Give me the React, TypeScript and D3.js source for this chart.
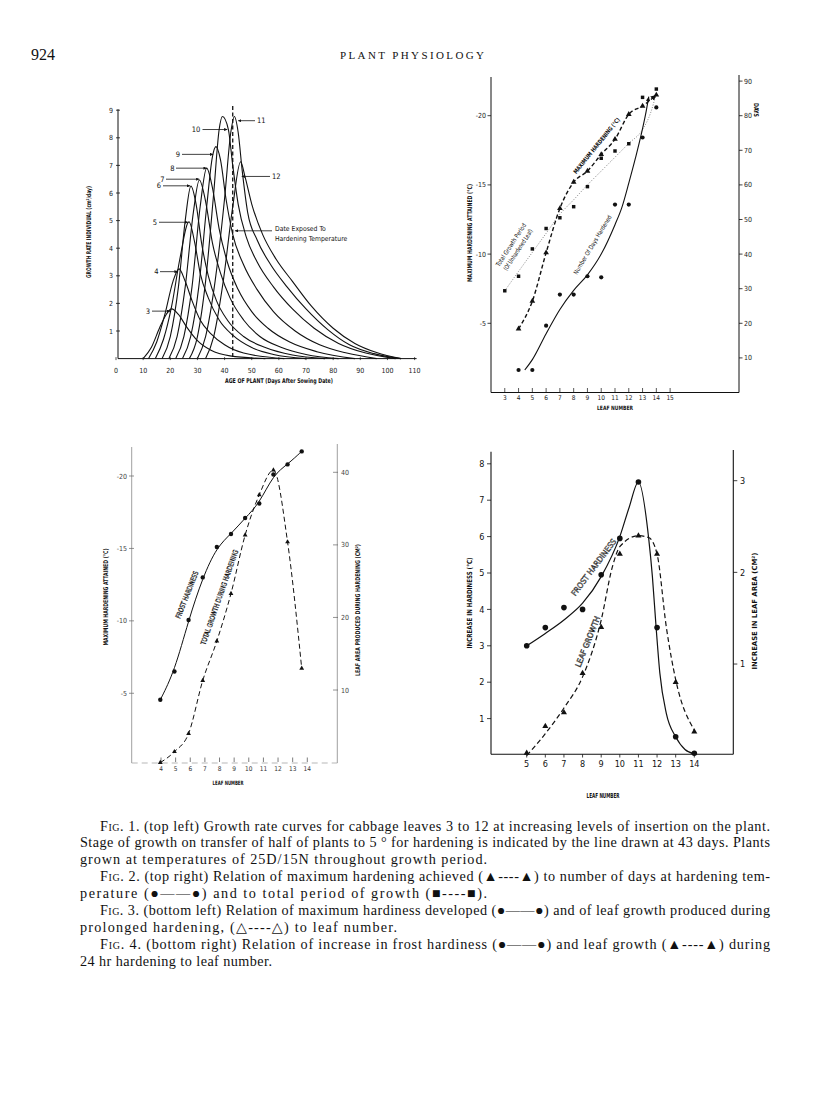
import * as d3 from "d3";

type Pt = [number, number];

// ── Fig. 1: growth rate of individual leaves (day, cm²/day) ──────────
const ageTicks = [0, 10, 20, 30, 40, 50, 60, 70, 80, 90, 100, 110];
const rateTicks = [1, 2, 3, 4, 5, 6, 7, 8, 9];
const exposureDay = 43;

const leaf3: Pt[] = [[10, 0], [13, 0.4], [16, 1.1], [18.5, 1.6], [20.5, 1.8], [23, 1.6], [26, 1.15], [30, 0.65], [35, 0.3], [42, 0.1], [55, 0]];
const leaf4: Pt[] = [[12, 0], [15, 0.6], [18, 1.6], [21, 2.8], [23.2, 3.25], [25.5, 2.8], [28, 2.1], [31, 1.4], [35, 0.9], [40, 0.5], [47, 0.2], [62, 0]];
const leaf5: Pt[] = [[14.5, 0], [17.5, 0.7], [20.5, 1.9], [23.5, 3.6], [26.9, 4.96], [29, 4.2], [31, 3.1], [34, 2.2], [38, 1.4], [43, 0.85], [50, 0.4], [58, 0.15], [70, 0]];
const leaf6: Pt[] = [[17, 0], [20, 0.8], [23, 2.6], [25.5, 5.0], [27.6, 6.25], [29.5, 5.6], [31.5, 4.2], [34, 3.0], [37, 2.1], [41, 1.4], [47, 0.8], [55, 0.4], [65, 0.13], [77, 0]];
const leaf7: Pt[] = [[19.5, 0], [22.5, 0.8], [25.5, 2.6], [28.5, 5.3], [30.7, 6.47], [33, 5.7], [35.5, 4.2], [38.5, 3.1], [42, 2.2], [47, 1.4], [53, 0.8], [61, 0.4], [70, 0.15], [82, 0]];
const leaf8: Pt[] = [[22, 0], [25, 0.8], [28, 2.6], [31, 5.5], [33.4, 6.9], [35.5, 6.2], [38, 4.7], [41, 3.5], [45, 2.5], [50, 1.7], [56, 1.1], [64, 0.6], [74, 0.25], [88, 0]];
const leaf9: Pt[] = [[24.5, 0], [27.5, 0.8], [30.5, 2.6], [33.5, 5.6], [35.5, 7.3], [36.8, 7.68], [38.5, 7.2], [40.5, 5.8], [43, 4.5], [47, 3.4], [52, 2.5], [58, 1.7], [66, 1.0], [75, 0.5], [85, 0.2], [96, 0]];
const leaf10: Pt[] = [[27, 0], [30, 0.8], [33, 2.8], [36, 6.0], [38, 8.3], [39.2, 8.77], [41.4, 8.3], [43, 7.0], [45, 5.6], [48, 4.4], [52, 3.5], [58, 2.6], [65, 1.8], [73, 1.1], [82, 0.55], [92, 0.2], [103, 0]];
const leaf11: Pt[] = [[30, 0], [33, 0.8], [36.5, 2.8], [40, 5.8], [42.3, 8.2], [43.6, 8.77], [45, 8.2], [46.5, 6.8], [48.5, 5.3], [52, 4.3], [57, 3.4], [63, 2.6], [70, 1.8], [78, 1.05], [86, 0.5], [95, 0.18], [105, 0]];
const leaf12: Pt[] = [[33, 0], [36, 0.8], [39.5, 2.8], [43, 5.5], [45.9, 7.13], [47.5, 6.6], [50, 5.6], [54, 4.5], [59, 3.6], [65, 2.8], [72, 1.9], [80, 1.1], [88, 0.55], [96, 0.22], [105, 0]];
const fig1Curves = [leaf3, leaf4, leaf5, leaf6, leaf7, leaf8, leaf9, leaf10, leaf11, leaf12];

// ── Fig. 2: max hardening, days hardened, total growth period ─────────
const leafTicks2 = [3, 4, 5, 6, 7, 8, 9, 10, 11, 12, 13, 14, 15];
const hardLeaves2 = [4, 5, 6, 7, 8, 9, 10, 11, 12, 13, 14];
const maxHardening2 = [4.6, 6.6, 10.1, 13.3, 15.2, 16.0, 17.2, 18.3, 20.1, 20.7, 21.5];
const daysHardened2 = [6.5, 6.5, 19.3, 28.3, 28.3, 33.6, 33.3, 54.3, 54.3, 73.7, 82.4];
const growthLeaves2 = [3, 4, 5, 6, 7, 8, 9, 10, 11, 12, 13, 14];
const totalGrowth2 = [29.4, 33.6, 41.5, 47.4, 50.5, 53.7, 59.5, 67.7, 69.8, 71.9, 85.3, 87.7];
const daysHardenedFit: Pt[] = [[4.45, 6.5], [5, 9.5], [6, 17], [7, 24], [8, 29.5], [9, 34], [10, 40], [11, 48.5], [11.5, 53.5], [12, 60.5], [12.5, 68], [12.9, 74.5], [13.2, 80], [13.45, 85.5]];
const totalGrowthFit: Pt[] = [[3, 29.4], [4, 35], [5, 40.5], [6, 46], [7, 51.5], [8, 55.7], [9, 60], [10, 64], [11, 68], [12, 72], [13, 76], [13.6, 81], [14, 86.5]];
const hardTicks2 = [5, 10, 15, 20];
const dayTicks2 = [10, 20, 30, 40, 50, 60, 70, 80, 90];

// ── Fig. 3: prolonged hardening ──────────────────────────────────────
const leaves3 = [4, 5, 6, 7, 8, 9, 10, 11, 12, 13, 14];
const frostHardiness3 = [4.55, 6.5, 10.06, 13.0, 15.1, 16.0, 17.1, 18.1, 20.1, 20.8, 21.7];
const leafGrowth3 = [0, 1.5, 4.0, 11.3, 16.75, 23.3, 31.35, 36.9, 40.3, 30.4, 13.0];
const hardTicks3 = [5, 10, 15, 20];
const areaTicks3 = [10, 20, 30, 40];

// ── Fig. 4: 24 hr hardening ──────────────────────────────────────────
const leaves4 = [5, 6, 7, 8, 9, 10, 11, 12, 13, 14];
const frostIncrease4 = [3.0, 3.5, 4.05, 4.0, 4.95, 5.95, 7.5, 3.5, 0.5, 0.05];
const leafGrowth4 = [0.03, 0.32, 0.47, 0.9, 1.4, 2.2, 2.4, 2.2, 0.8, 0.26];
const frostFit4: Pt[] = [[5, 3.0], [6, 3.34], [7, 3.71], [8, 4.17], [9, 4.9], [10, 6.0], [10.5, 6.8], [11, 7.5], [11.55, 5.95], [11.75, 4.9], [11.95, 3.5], [12.15, 2.25], [12.5, 1.14], [13, 0.5], [13.5, 0.15], [14, 0.03]];
const leafGrowthFit4: Pt[] = [[5, 0], [6, 0.24], [7, 0.52], [8, 0.86], [9, 1.48], [9.6, 2.06], [10, 2.28], [11, 2.4], [11.55, 2.38], [12, 2.2], [12.5, 1.4], [13, 0.83], [14, 0.28]];
const hardTicks4 = [1, 2, 3, 4, 5, 6, 7, 8];
const areaTicks4 = [1, 2, 3];

const captionLines = [
  { fig: "Fig. 1.", text: " (top left) Growth rate curves for cabbage leaves 3 to 12 at increasing levels of insertion on the plant.", indent: true, end: 770 },
  { fig: "", text: "Stage of growth on transfer of half of plants to 5 ° for hardening is indicated by the line drawn at 43 days. Plants", indent: false, end: 770 },
  { fig: "", text: "grown at temperatures of 25D/15N throughout growth period.", indent: false, end: 487 },
  { fig: "Fig. 2.", text: " (top right) Relation of maximum hardening achieved (▲----▲) to number of days at hardening tem-", indent: true, end: 770 },
  { fig: "", text: "perature (●——●) and to total period of growth (■----■).", indent: false, end: 487 },
  { fig: "Fig. 3.", text: " (bottom left) Relation of maximum hardiness developed (●——●) and of leaf growth produced during", indent: true, end: 770 },
  { fig: "", text: "prolonged hardening, (△----△) to leaf number.", indent: false, end: 397 },
  { fig: "Fig. 4.", text: " (bottom right) Relation of increase in frost hardiness (●——●) and leaf growth (▲----▲) during", indent: true, end: 770 },
  { fig: "", text: "24 hr hardening to leaf number.", indent: false, end: 272 },
];

const SANS = "'Liberation Sans Narrow','DejaVu Sans Condensed','Liberation Sans',sans-serif";
const SERIF = "'Liberation Serif','DejaVu Serif',serif";

const tri = d3.symbol().type(d3.symbolTriangle);
const sq = d3.symbol().type(d3.symbolSquare);

function RotText(p: { x: number; y: number; angle: number; len?: number; size: number; bold?: boolean; hollow?: boolean; children: any }) {
  return (
    <text
      transform={`translate(${p.x},${p.y}) rotate(${p.angle})`}
      textAnchor="middle"
      fontFamily={SANS}
      fontSize={p.size}
      fontWeight={p.bold ? "bold" : "normal"}
      textLength={p.len}
      lengthAdjust="spacingAndGlyphs"
      fill={p.hollow ? "#fff" : "#111"}
      stroke={p.hollow ? "#111" : "none"}
      strokeWidth={p.hollow ? 0.45 : 0}
      dominantBaseline="middle"
    >
      {p.children}
    </text>
  );
}

function Fig1() {
  const x = d3.scaleLinear().domain([0, 110]).range([116, 414.6]);
  const y = d3.scaleLinear().domain([0, 9]).range([358.6, 110.2]);
  const line = d3.line<Pt>().x((d) => x(d[0])).y((d) => y(d[1])).curve(d3.curveMonotoneX);
  const ax = x(0) + 2;
  const leaders = [
    { t: "3", lx: 148, from: 152, day: 19.9, rate: 1.72 },
    { t: "4", lx: 156.5, from: 160, day: 22.7, rate: 3.15 },
    { t: "5", lx: 155, from: 159, day: 26.6, rate: 4.94 },
    { t: "6", lx: 159, from: 163, day: 27.3, rate: 6.26 },
    { t: "7", lx: 162.5, from: 166, day: 30.7, rate: 6.5 },
    { t: "8", lx: 172.5, from: 176, day: 33.4, rate: 6.9 },
    { t: "9", lx: 178, from: 182, day: 35.8, rate: 7.4 },
    { t: "10", lx: 196, from: 202.5, day: 41.0, rate: 8.3 },
  ];
  const rightLeaders = [
    { t: "11", lx: 257, from: 255, day: 45.0, rate: 8.62 },
    { t: "12", lx: 272, from: 270, day: 46.3, rate: 6.6 },
  ];
  return (
    <g>
      <line x1={ax} x2={ax} y1={y(9) - 1} y2={y(0)} stroke="#111" strokeWidth={1} />
      <line x1={ax} x2={x(110) + 2} y1={y(0)} y2={y(0)} stroke="#111" strokeWidth={1} />
      {rateTicks.map((t) => (
        <g key={t}>
          <line x1={ax - 2} x2={ax + 2} y1={y(t)} y2={y(t)} stroke="#111" strokeWidth={0.8} />
          <text x={ax - 5} y={y(t) + 2.5} textAnchor="end" fontSize={7} fontFamily={SANS} fill="#222">{t}</text>
        </g>
      ))}
      {ageTicks.map((t) => (
        <g key={t}>
          <line x1={x(t)} x2={x(t)} y1={y(0) - 1.5} y2={y(0) + 1.5} stroke="#111" strokeWidth={0.7} />
          <text x={x(t)} y={373} textAnchor="middle" fontSize={7} fontFamily={SANS} fill="#222">{t}</text>
        </g>
      ))}
      <text x={279} y={383} textAnchor="middle" fontSize={6.5} fontWeight="bold" fontFamily={SANS} textLength={108} lengthAdjust="spacingAndGlyphs" fill="#111">
        AGE OF PLANT (Days After Sowing Date)
      </text>
      <RotText x={89} y={232} angle={-90} len={92} size={6.5} bold>
        GROWTH RATE INDIVIDUAL (cm²/day)
      </RotText>
      {fig1Curves.map((c, i) => (
        <path key={i} d={line(c) ?? ""} fill="none" stroke="#111" strokeWidth={1.1} />
      ))}
      <line x1={x(exposureDay)} x2={x(exposureDay)} y1={106} y2={y(0)} stroke="#111" strokeWidth={1.3} strokeDasharray="4 2.5" />
      {leaders.map((l) => (
        <g key={l.t}>
          <text x={l.lx} y={y(l.rate) + 2.5} textAnchor="middle" fontSize={7.5} fontFamily={SANS} fill="#111">{l.t}</text>
          <line x1={l.from} x2={x(l.day)} y1={y(l.rate)} y2={y(l.rate)} stroke="#111" strokeWidth={0.8} markerEnd="url(#arr)" />
        </g>
      ))}
      {rightLeaders.map((l) => (
        <g key={l.t}>
          <text x={l.lx} y={y(l.rate) + 2.5} fontSize={7.5} fontFamily={SANS} fill="#111">{l.t}</text>
          <line x1={l.from} x2={x(l.day)} y1={y(l.rate)} y2={y(l.rate)} stroke="#111" strokeWidth={0.8} markerEnd="url(#arr)" />
        </g>
      ))}
      <line x1={272} x2={x(43.8)} y1={y(4.63)} y2={y(4.63)} stroke="#111" strokeWidth={0.8} markerEnd="url(#arr)" />
      <text x={275} y={230.8} fontSize={6.8} fontFamily={SANS} fill="#111">Date Exposed To</text>
      <text x={275} y={240.8} fontSize={6.8} fontFamily={SANS} fill="#111">Hardening Temperature</text>
    </g>
  );
}

function Fig2() {
  const x = d3.scaleLinear().domain([2, 20]).range([491, 739]);
  const yL = d3.scaleLinear().domain([0, 20]).range([392.5, 115.7]);
  const yR = d3.scaleLinear().domain([0, 80]).range([392.5, 115.7]);
  const lineL = d3.line<Pt>().x((d) => x(d[0])).y((d) => yL(d[1])).curve(d3.curveMonotoneX);
  const lineR = d3.line<Pt>().x((d) => x(d[0])).y((d) => yR(d[1])).curve(d3.curveMonotoneX);
  const hardPts: Pt[] = hardLeaves2.map((l, i) => [l, maxHardening2[i]]);
  return (
    <g>
      <line x1={491} x2={491} y1={77} y2={392.5} stroke="#111" strokeWidth={1} />
      <line x1={739} x2={739} y1={75} y2={392.5} stroke="#111" strokeWidth={1} />
      <line x1={491} x2={739} y1={392.5} y2={392.5} stroke="#111" strokeWidth={1} />
      {hardTicks2.map((t) => (
        <g key={t}>
          <line x1={487.5} x2={491} y1={yL(t)} y2={yL(t)} stroke="#111" strokeWidth={0.8} />
          <text x={486} y={yL(t) + 2.5} textAnchor="end" fontSize={7} fontFamily={SANS} fill="#222">-{t}</text>
        </g>
      ))}
      {dayTicks2.map((t) => (
        <g key={t}>
          <line x1={739} x2={742.5} y1={yR(t)} y2={yR(t)} stroke="#111" strokeWidth={0.8} />
          <text x={744} y={yR(t) + 2.5} fontSize={7} fontFamily={SANS} fill="#222">{t}</text>
        </g>
      ))}
      {leafTicks2.map((t) => (
        <g key={t}>
          <line x1={x(t)} x2={x(t)} y1={388} y2={392.5} stroke="#111" strokeWidth={0.7} />
          <text x={x(t)} y={400} textAnchor="middle" fontSize={6.5} fontFamily={SANS} fill="#222">{t}</text>
        </g>
      ))}
      <text x={615} y={410} textAnchor="middle" fontSize={6} fontWeight="bold" fontFamily={SANS} textLength={36} lengthAdjust="spacingAndGlyphs" fill="#111">LEAF NUMBER</text>
      <RotText x={470} y={233} angle={-90} len={98} size={6.5} bold>MAXIMUM HARDENING ATTAINED (°C)</RotText>
      <RotText x={756} y={110} angle={90} len={14} size={6.5} bold>DAYS</RotText>

      <path d={lineR(totalGrowthFit) ?? ""} fill="none" stroke="#666" strokeWidth={0.8} strokeDasharray="1 1.6" />
      <path d={lineL(hardPts) ?? ""} fill="none" stroke="#111" strokeWidth={1.4} strokeDasharray="4 2.5" markerEnd="url(#arr)" />
      <path d={lineR(daysHardenedFit) ?? ""} fill="none" stroke="#111" strokeWidth={1.1} markerEnd="url(#arr)" />

      {growthLeaves2.map((l, i) => (
        <path key={"s" + l} transform={`translate(${x(l)},${yR(totalGrowth2[i])})`} d={sq.size(12)() ?? ""} fill="#111" />
      ))}
      {hardLeaves2.map((l, i) => (
        <circle key={"c" + l} cx={x(l)} cy={yR(daysHardened2[i])} r={2.1} fill="#111" />
      ))}
      {hardLeaves2.map((l, i) => (
        <path key={"t" + l} transform={`translate(${x(l)},${yL(maxHardening2[i])})`} d={tri.size(14)() ?? ""} fill="#111" />
      ))}

      <RotText x={597} y={146} angle={-51} len={70} size={6} bold>MAXIMUM HARDENING (°C)</RotText>
      <RotText x={511.5} y={245} angle={-57} len={50} size={6.3}>Total Growth Period</RotText>
      <RotText x={518.5} y={250} angle={-57} len={48} size={6.3}>(Of Unhardened Leaf)</RotText>
      <RotText x={593} y={245} angle={-59} len={68} size={6.3}>Number Of Days Hardened</RotText>
    </g>
  );
}

function Fig3() {
  const xT = d3.scaleLinear().domain([4, 14]).range([161, 307.3]);
  const xP = d3.scaleLinear().domain([4, 14]).range([160.3, 301.7]);
  const yL = d3.scaleLinear().domain([0, 20]).range([765.7, 476]);
  const yR = d3.scaleLinear().domain([0, 40]).range([762.6, 472.3]);
  const frostLine = d3.line<number>().x((_, i) => xP(leaves3[i])).y((d) => yL(d)).curve(d3.curveBasis);
  const growthLine = d3.line<number>().x((_, i) => xP(leaves3[i])).y((d) => yR(d)).curve(d3.curveMonotoneX);
  return (
    <g>
      <line x1={131.7} x2={131.7} y1={447} y2={763} stroke="#888" strokeWidth={0.8} />
      <line x1={337.3} x2={337.3} y1={444} y2={763} stroke="#888" strokeWidth={0.8} />
      <line x1={131.7} x2={337.3} y1={763} y2={763} stroke="#999" strokeWidth={0.7} strokeDasharray="6 4" />
      {hardTicks3.map((t) => (
        <g key={t}>
          <line x1={129} x2={134} y1={yL(t)} y2={yL(t)} stroke="#666" strokeWidth={0.7} />
          <text x={127} y={yL(t) + 2.5} textAnchor="end" fontSize={7} fontFamily={SANS} fill="#444">-{t}</text>
        </g>
      ))}
      {areaTicks3.map((t) => (
        <g key={t}>
          <line x1={333} x2={338} y1={yR(t)} y2={yR(t)} stroke="#666" strokeWidth={0.7} />
          <text x={341} y={yR(t) + 2.5} fontSize={7} fontFamily={SANS} fill="#444">{t}</text>
        </g>
      ))}
      {leaves3.map((t) => (
        <g key={t}>
          <line x1={xT(t)} x2={xT(t)} y1={757.5} y2={762} stroke="#444" strokeWidth={0.7} />
          <text x={xT(t)} y={771} textAnchor="middle" fontSize={6.5} fontFamily={SANS} fill="#333">{t}</text>
        </g>
      ))}
      <text x={228} y={785} textAnchor="middle" fontSize={6} fontWeight="bold" fontFamily={SANS} textLength={31} lengthAdjust="spacingAndGlyphs" fill="#111">LEAF NUMBER</text>
      <RotText x={106} y={597} angle={-90} len={97} size={6.5} bold>MAXIMUM HARDENING ATTAINED (°C)</RotText>
      <RotText x={358.5} y={610} angle={-90} len={132} size={6.5} bold>LEAF AREA PRODUCED DURING HARDENING (CM²)</RotText>

      <path d={frostLine(frostHardiness3) ?? ""} fill="none" stroke="#111" strokeWidth={1} />
      <path d={growthLine(leafGrowth3) ?? ""} fill="none" stroke="#111" strokeWidth={1} strokeDasharray="5 3" />
      {leaves3.map((l, i) => (
        <circle key={"c" + l} cx={xP(l)} cy={yL(frostHardiness3[i])} r={2.2} fill="#111" />
      ))}
      {leaves3.map((l, i) => (
        <path key={"t" + l} transform={`translate(${xP(l)},${yR(leafGrowth3[i])})`} d={tri.size(10)() ?? ""} fill="#111" />
      ))}
      <RotText x={187.5} y={595} angle={-68.5} len={50} size={7} hollow>FROST HARDINESS</RotText>
      <RotText x={220} y={597.5} angle={-70.7} len={100} size={7} hollow>TOTAL GROWTH DURING HARDENING</RotText>
    </g>
  );
}

function Fig4() {
  const x = d3.scaleLinear().domain([5, 14]).range([526.7, 694.3]);
  const yL = d3.scaleLinear().domain([0, 8]).range([755, 463.8]);
  const yR = d3.scaleLinear().domain([0, 3]).range([755.7, 480.7]);
  const fitL = d3.line<Pt>().x((d) => x(d[0])).y((d) => yL(d[1])).curve(d3.curveMonotoneX);
  const fitR = d3.line<Pt>().x((d) => x(d[0])).y((d) => yR(d[1])).curve(d3.curveMonotoneX);
  return (
    <g>
      <line x1={491} x2={491} y1={451.7} y2={754.3} stroke="#111" strokeWidth={1.1} />
      <line x1={733.3} x2={733.3} y1={450} y2={754.3} stroke="#111" strokeWidth={1.1} />
      <line x1={491} x2={733.3} y1={754.3} y2={754.3} stroke="#111" strokeWidth={1.1} />
      {hardTicks4.map((t) => (
        <g key={t}>
          <line x1={487} x2={491} y1={yL(t)} y2={yL(t)} stroke="#111" strokeWidth={0.8} />
          <text x={484.5} y={yL(t) + 3.2} textAnchor="end" fontSize={9} fontFamily={SANS} fill="#111">{t}</text>
        </g>
      ))}
      {areaTicks4.map((t) => (
        <g key={t}>
          <line x1={733.3} x2={737.3} y1={yR(t)} y2={yR(t)} stroke="#111" strokeWidth={0.8} />
          <text x={740} y={yR(t) + 3.2} fontSize={9} fontFamily={SANS} fill="#111">{t}</text>
        </g>
      ))}
      {leaves4.map((t) => (
        <g key={t}>
          <line x1={x(t)} x2={x(t)} y1={754.3} y2={757.5} stroke="#111" strokeWidth={0.8} />
          <text x={x(t)} y={767} textAnchor="middle" fontSize={9} fontFamily={SANS} fill="#111">{t}</text>
        </g>
      ))}
      <text x={603} y={798} textAnchor="middle" fontSize={7} fontWeight="bold" fontFamily={SANS} textLength={33} lengthAdjust="spacingAndGlyphs" fill="#111">LEAF NUMBER</text>
      <RotText x={470} y={603} angle={-90} len={91} size={7} bold>INCREASE IN HARDINESS (°C)</RotText>
      <RotText x={755} y={611} angle={-90} len={117} size={7} bold>INCREASE IN LEAF AREA (CM²)</RotText>

      <path d={fitL(frostFit4) ?? ""} fill="none" stroke="#111" strokeWidth={1.2} />
      <path d={fitR(leafGrowthFit4) ?? ""} fill="none" stroke="#111" strokeWidth={1.2} strokeDasharray="5 3" />
      {leaves4.map((l, i) => (
        <circle key={"c" + l} cx={x(l)} cy={yL(frostIncrease4[i])} r={2.8} fill="#111" />
      ))}
      {leaves4.map((l, i) => (
        <path key={"t" + l} transform={`translate(${x(l)},${yR(leafGrowth4[i])})`} d={tri.size(16)() ?? ""} fill="#111" />
      ))}
      <RotText x={594} y={567.5} angle={-53} len={69} size={8} hollow>FROST HARDINESS</RotText>
      <RotText x={588} y={641.7} angle={-68} len={54} size={8} hollow>LEAF GROWTH</RotText>
    </g>
  );
}

function Caption() {
  return (
    <g fontFamily={SERIF} fontSize={14.2} fill="#111">
      {captionLines.map((l, i) => {
        const x0 = l.indent ? 100 : 80;
        return (
          <text key={i} x={x0} y={830.5 + i * 16.9} textLength={l.end - x0} lengthAdjust="spacing">
            {l.fig && <tspan style={{ fontVariant: "small-caps" }}>{l.fig}</tspan>}
            {l.text}
          </text>
        );
      })}
    </g>
  );
}

export default function App() {
  return (
    <div style={{ position: "absolute", left: 0, top: 0 }}>
      <svg width={816} height={1104} style={{ display: "block", background: "#fff" }}>
        <defs>
          <marker id="arr" viewBox="0 0 6 6" refX={6} refY={3} markerWidth={4} markerHeight={4} orient="auto">
            <path d="M0,0L6,3L0,6z" fill="#111" />
          </marker>
        </defs>
        <text x={31} y={60} fontFamily={SERIF} fontSize={16} fill="#111">924</text>
        <text x={412} y={59} textAnchor="middle" fontFamily={SERIF} fontSize={11} textLength={144} lengthAdjust="spacing" fill="#111">PLANT PHYSIOLOGY</text>
        <Fig1 />
        <Fig2 />
        <Fig3 />
        <Fig4 />
        <Caption />
      </svg>
    </div>
  );
}
